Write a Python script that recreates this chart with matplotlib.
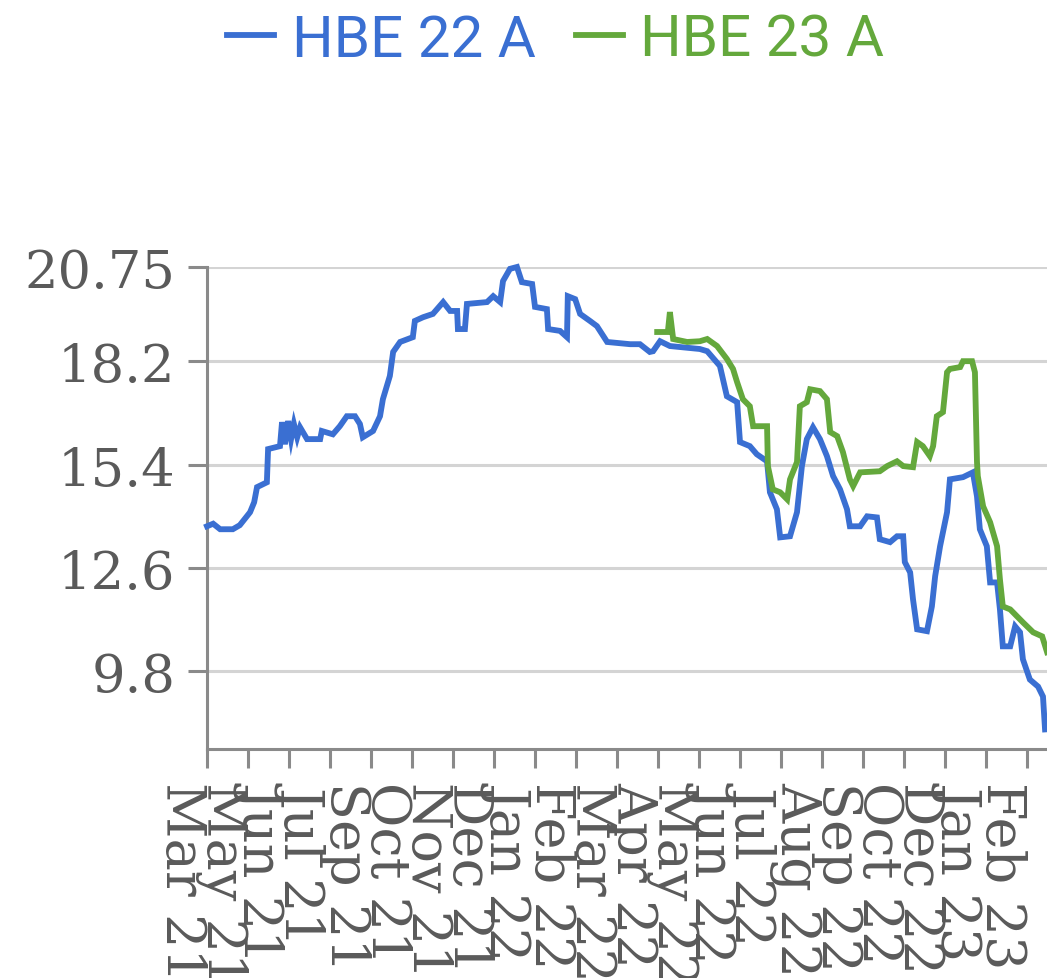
import matplotlib
matplotlib.use("Agg")
import matplotlib.pyplot as plt
from matplotlib.lines import Line2D

# --- Data (x in tick-period units, 0 = Mar 21) ---
month_labels = [
    "Mar 21", "May 21", "Jun 21", "Jul 21", "Sep 21", "Oct 21", "Nov 21",
    "Dec 21", "Jan 22", "Feb 22", "Mar 22", "Apr 22", "May 22", "Jun 22",
    "Jul 22", "Aug 22", "Sep 22", "Oct 22", "Dec 22", "Jan 23", "Feb 23",
]
y_ticks = [9.8, 12.6, 15.4, 18.2, 20.75]
y_tick_labels = ["9.8", "12.6", "15.4", "18.2", "20.75"]

hbe22_x = [
    0.00, 0.15, 0.32, 0.63, 0.80, 1.05, 1.15, 1.22, 1.46, 1.49, 1.78, 1.83,
    1.90, 1.98, 2.05, 2.12, 2.20, 2.27, 2.44, 2.76, 2.80, 3.07, 3.24, 3.41,
    3.61, 3.73, 3.80, 4.05, 4.22, 4.29, 4.46, 4.54, 4.71, 5.02, 5.07, 5.27,
    5.51, 5.76, 5.93, 6.10, 6.12, 6.29, 6.34, 6.83, 6.98, 7.15, 7.22, 7.39,
    7.56, 7.68, 7.93, 8.00, 8.29, 8.32, 8.61, 8.78, 8.80, 8.98, 9.10, 9.34,
    9.51, 9.76, 10.32, 10.56, 10.80, 10.88, 11.05, 11.29, 12.02, 12.20, 12.51,
    12.68, 12.93, 13.00, 13.24, 13.41, 13.66, 13.73, 13.90, 13.98, 14.22,
    14.39, 14.51, 14.63, 14.78, 14.95, 15.12, 15.27, 15.44, 15.61, 15.68,
    15.93, 16.10, 16.34, 16.41, 16.66, 16.83, 16.98, 17.02, 17.15, 17.22,
    17.32, 17.56, 17.68, 17.76, 17.88, 18.05, 18.12, 18.44, 18.68, 18.78,
    18.85, 19.02, 19.10, 19.27, 19.34, 19.41, 19.59, 19.71, 19.83, 19.90,
    20.07, 20.27, 20.39, 20.44,
]
hbe22_y = [
    13.73, 13.80, 13.65, 13.65, 13.76, 14.11, 14.38, 14.79, 14.92, 15.82,
    15.90, 16.55, 15.95, 16.58, 16.09, 16.50, 16.14, 16.41, 16.09, 16.09,
    16.31, 16.22, 16.44, 16.71, 16.71, 16.50, 16.14, 16.31, 16.71, 17.17,
    17.80, 18.45, 18.72, 18.85, 19.29, 19.39, 19.48, 19.80, 19.56, 19.56,
    19.07, 19.07, 19.75, 19.80, 19.96, 19.80, 20.37, 20.70, 20.75, 20.34,
    20.29, 19.67, 19.61, 19.07, 19.02, 18.85, 19.96, 19.88, 19.48, 19.29,
    19.15, 18.72, 18.66, 18.66, 18.45, 18.47, 18.74, 18.61, 18.53, 18.47,
    18.07, 17.25, 17.09, 16.01, 15.90, 15.68, 15.49, 14.65, 14.19, 13.43,
    13.46, 14.11, 15.36, 16.09, 16.41, 16.09, 15.63, 15.09, 14.73, 14.19,
    13.73, 13.73, 14.00, 13.97, 13.38, 13.30, 13.46, 13.46, 12.76, 12.48,
    11.75, 10.94, 10.89, 11.56, 12.38, 13.19, 14.11, 15.00, 15.06, 15.19,
    14.54, 13.65, 13.19, 12.21, 12.21, 11.48, 10.48, 10.48, 11.02, 10.86,
    10.13, 9.58, 9.39, 9.12, 8.23,
]

hbe23_x = [
    10.98, 11.24, 11.29, 11.37, 11.71, 12.02, 12.20, 12.44, 12.68, 12.83,
    12.93, 13.07, 13.24, 13.32, 13.66, 13.68, 13.80, 13.98, 14.15, 14.22,
    14.39, 14.46, 14.63, 14.71, 14.95, 15.12, 15.20, 15.37, 15.51, 15.68,
    15.76, 15.93, 16.41, 16.59, 16.83, 16.98, 17.22, 17.32, 17.46, 17.63,
    17.71, 17.80, 17.95, 18.05, 18.12, 18.37, 18.44, 18.66, 18.73, 18.78,
    18.80, 18.93, 19.10, 19.27, 19.34, 19.41, 19.59, 19.90, 20.15, 20.37,
    20.49,
]
hbe23_y = [
    18.99, 18.99, 19.53, 18.80, 18.72, 18.74, 18.80, 18.61, 18.26, 17.99,
    17.63, 17.17, 16.98, 16.44, 16.44, 15.36, 14.73, 14.65, 14.46, 15.00,
    15.47, 16.98, 17.09, 17.44, 17.39, 17.17, 16.28, 16.17, 15.74, 15.00,
    14.82, 15.19, 15.22, 15.36, 15.49, 15.36, 15.33, 16.01, 15.90, 15.63,
    15.90, 16.71, 16.82, 17.90, 17.99, 18.04, 18.20, 18.20, 17.90, 15.47,
    15.09, 14.27, 13.84, 13.19, 12.29, 11.56, 11.48, 11.13, 10.86, 10.75,
    10.32,
]

BLUE = "#3a6fd2"
GREEN = "#64a83c"
AXIS_GREY = "#8a8a8a"
TEXT_GREY = "#5a5a5a"
LINE_W = 4.2

fig = plt.figure(figsize=(10.47, 9.79), dpi=100)
ax = fig.add_axes([207 / 1047, 1 - 750 / 979, 840 / 1047, 482 / 979])

ax.plot(hbe22_x, hbe22_y, color=BLUE, linewidth=LINE_W, clip_on=False,
        solid_joinstyle="miter", zorder=3)
ax.plot(hbe23_x, hbe23_y, color=GREEN, linewidth=LINE_W, clip_on=False,
        solid_joinstyle="miter", zorder=4)

ax.set_xlim(0, 840 / 41)
ax.set_ylim(7.7, 20.75)

# --- Axes styling ---
for side in ("top", "right"):
    ax.spines[side].set_visible(False)
for side in ("left", "bottom"):
    ax.spines[side].set_color(AXIS_GREY)
    ax.spines[side].set_linewidth(2.2)

ax.set_yticks(y_ticks)
ax.set_yticklabels(y_tick_labels, family="DejaVu Serif", fontsize=38,
                   color=TEXT_GREY)
ax.set_xticks(range(len(month_labels)))
ax.set_xticklabels(month_labels, family="DejaVu Serif", fontsize=39,
                   color=TEXT_GREY, rotation=-90, ha="right", va="top")
ax.tick_params(axis="both", length=14, width=2.2, color=AXIS_GREY, pad=9)
ax.yaxis.grid(True, color="#d4d4d4", linewidth=2.2)
ax.set_axisbelow(True)

# --- Legend ---
handles = [Line2D([], [], color=BLUE, linewidth=LINE_W),
           Line2D([], [], color=GREEN, linewidth=LINE_W)]
fig.legend(handles, ["HBE 22 A", "HBE 23 A"], loc="center",
           bbox_to_anchor=(0.531, 0.958), ncol=2, frameon=False,
           prop={"family": "Roboto", "size": 42},
           labelcolor=[BLUE, GREEN],
           handlelength=0.8, handletextpad=0.3, columnspacing=0.7,
           borderpad=0, borderaxespad=0)

fig.savefig("out.png", dpi=100)
